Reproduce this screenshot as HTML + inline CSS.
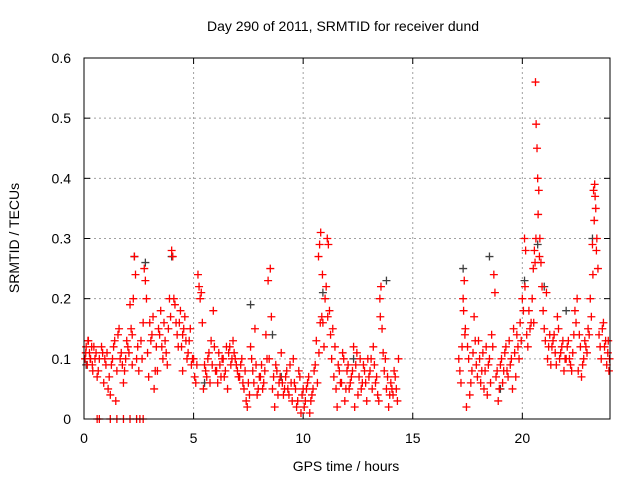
<!DOCTYPE html>
<html><head><meta charset="utf-8"><style>
body{margin:0;background:#fff;}
svg{display:block;font-family:"Liberation Sans",sans-serif;}
</style></head><body>
<svg id="chart" width="640" height="480">
<rect width="640" height="480" fill="#fff"/>
<g id="grid"></g>
<g id="ticks"></g>
<g id="marks"></g>
<rect x="84" y="58" width="526" height="361" fill="none" stroke="#000" stroke-width="1"/>
<text x="343" y="31" font-size="14" text-anchor="middle">Day 290 of 2011, SRMTID for receiver dund</text>
<text x="346" y="471" font-size="14" text-anchor="middle">GPS time / hours</text>
<text transform="translate(19,238) rotate(-90)" font-size="14" text-anchor="middle">SRMTID / TECUs</text>
</svg>
<script>
const xTicks=[0,5,10,15,20];
const yTicks=[0,0.1,0.2,0.3,0.4,0.5,0.6];
const yTickLabels=["0","0.1","0.2","0.3","0.4","0.5","0.6"];
const redTimes=[0.05,0.1,0.15,0.2,0.25,0.3,0.35,0.4,0.5,0.6,0.7,0.8,0.85,0.9,1.0,
1.1,1.2,1.3,1.4,1.5,1.6,1.7,1.8,1.9,2.0,1.45,1.75,
2.1,2.2,2.3,2.35,2.4,2.5,2.6,2.7,2.75,2.8,2.85,2.9,2.95,2.2,
3.0,3.1,3.2,3.3,3.4,3.5,3.6,3.7,3.8,3.9,3.95,3.35,
4.0,4.05,4.1,4.2,4.3,4.4,4.5,4.6,4.7,4.8,4.9,4.5,
5.0,5.1,5.2,5.25,5.3,5.4,5.5,5.6,5.7,5.8,5.9,6.0,5.45,
6.1,6.2,6.3,6.4,6.5,6.6,6.7,6.8,6.9,7.0,6.55,
7.1,7.2,7.3,7.4,7.5,7.6,7.7,7.8,7.9,8.0,7.45,
8.1,8.2,8.3,8.4,8.5,8.55,8.6,8.7,8.8,8.9,9.0,8.45,
9.1,9.2,9.3,9.4,9.5,9.6,9.7,9.8,9.9,10.0,9.55,
10.1,10.2,10.3,10.4,10.5,10.6,10.7,10.75,10.8,10.85,10.9,11.0,11.05,10.95,
11.1,11.15,11.2,11.3,11.4,11.5,11.6,11.7,11.8,11.9,12.0,11.55,
12.1,12.2,12.3,12.4,12.5,12.6,12.7,12.8,12.9,13.0,12.35,
13.1,13.2,13.3,13.4,13.5,13.55,13.6,13.7,13.8,13.9,14.0,13.65,
14.1,14.2,14.3,14.35,
17.1,17.2,17.3,17.35,17.4,17.5,17.6,17.7,17.8,17.9,18.0,17.45,
18.1,18.2,18.3,18.4,18.5,18.6,18.7,18.75,18.8,18.9,19.0,18.35,
19.1,19.2,19.3,19.4,19.5,19.6,19.7,19.8,19.9,20.0,19.55,
20.1,20.15,20.2,20.3,20.4,20.5,20.55,20.6,20.63,20.67,20.7,20.75,20.8,20.85,20.9,21.0,
21.1,21.2,21.3,21.4,21.5,21.6,21.7,21.8,21.9,22.0,21.45,
22.1,22.2,22.3,22.4,22.5,22.6,22.7,22.8,22.9,23.0,22.55,
23.1,23.2,23.25,23.3,23.35,23.4,23.5,23.6,23.7,23.8,23.9,23.95,23.45,
0.6,0.7,1.2,1.5,1.8,2.1,2.4,2.55,2.7];
const redValues=[0.1,0.12,0.09,0.13,0.11,0.1,0.12,0.08,0.1,0.07,0.1,0.12,0.11,0.06,0.09,
0.05,0.04,0.1,0.13,0.08,0.15,0.11,0.06,0.1,0.12,0.03,0.09,
0.19,0.14,0.27,0.24,0.1,0.08,0.13,0.16,0.25,0.23,0.2,0.11,0.07,0.09,
0.16,0.14,0.05,0.12,0.15,0.18,0.1,0.13,0.09,0.2,0.17,0.08,
0.28,0.27,0.2,0.16,0.12,0.18,0.14,0.17,0.1,0.13,0.09,0.08,
0.1,0.06,0.24,0.22,0.2,0.16,0.09,0.07,0.11,0.13,0.18,0.08,0.05,
0.06,0.09,0.1,0.07,0.12,0.11,0.09,0.13,0.1,0.08,0.05,
0.07,0.1,0.05,0.03,0.06,0.12,0.08,0.15,0.04,0.07,0.02,
0.09,0.06,0.14,0.23,0.25,0.17,0.05,0.02,0.08,0.06,0.11,0.1,
0.04,0.07,0.05,0.09,0.03,0.06,0.02,0.08,0.01,0.05,0.1,
0.03,0.06,0.01,0.04,0.08,0.13,0.27,0.29,0.31,0.17,0.16,0.2,0.22,0.12,
0.3,0.29,0.18,0.1,0.07,0.05,0.09,0.06,0.11,0.03,0.08,0.02,
0.05,0.07,0.12,0.09,0.04,0.1,0.06,0.08,0.03,0.07,0.02,
0.1,0.12,0.06,0.04,0.2,0.22,0.15,0.08,0.05,0.02,0.06,0.11,
0.04,0.07,0.03,0.1,
0.1,0.06,0.2,0.23,0.15,0.12,0.04,0.08,0.17,0.09,0.13,0.02,
0.06,0.11,0.08,0.04,0.1,0.14,0.24,0.21,0.07,0.03,0.09,0.12,
0.06,0.11,0.08,0.13,0.1,0.15,0.07,0.12,0.16,0.2,0.05,
0.3,0.28,0.14,0.18,0.16,0.25,0.28,0.56,0.49,0.45,0.4,0.38,0.3,0.26,0.22,0.15,
0.21,0.12,0.09,0.13,0.11,0.17,0.1,0.12,0.08,0.1,0.14,
0.13,0.09,0.11,0.18,0.2,0.14,0.07,0.1,0.12,0.15,0.08,
0.2,0.29,0.38,0.39,0.35,0.3,0.14,0.1,0.16,0.13,0.11,0.08,0.25,
0,0,0,0,0,0,0,0,0];
const redTimes2=[0.08,0.18,0.28,0.38,0.45,0.55,0.65,0.95,1.05,1.15,1.25,1.35,1.55,1.65,1.85,1.95,2.05,2.15,2.25,2.45,2.65,
3.05,3.15,3.25,3.45,3.55,3.65,3.75,3.85,4.15,4.25,4.35,4.45,4.55,4.65,4.75,4.85,4.95,5.05,5.15,5.35,5.55,5.65,5.75,5.85,5.95,
6.05,6.15,6.25,6.35,6.45,6.65,6.75,6.85,6.95,7.05,7.15,7.25,7.35,7.55,7.65,7.75,7.85,7.95,8.05,8.15,8.25,8.35,8.65,8.75,8.85,8.95,
9.05,9.15,9.25,9.35,9.45,9.65,9.75,9.85,9.95,10.05,10.15,10.25,10.35,10.45,10.55,10.65,10.72,10.78,10.88,11.12,11.25,11.35,11.45,11.65,11.75,11.85,11.95,
12.05,12.15,12.25,12.45,12.55,12.65,12.75,12.85,12.95,13.05,13.15,13.25,13.35,13.45,13.52,13.75,13.85,13.95,14.05,14.15,14.25,
17.15,17.25,17.32,17.38,17.55,17.65,17.75,17.85,17.95,18.05,18.15,18.25,18.45,18.55,18.65,18.85,18.95,19.05,19.15,19.25,19.35,19.45,19.65,19.75,19.85,19.95,
20.05,20.12,20.25,20.35,20.45,20.52,20.58,20.62,20.72,20.78,20.95,21.05,21.15,21.25,21.35,21.55,21.65,21.75,21.85,21.95,
22.05,22.15,22.25,22.35,22.45,22.65,22.75,22.85,22.95,23.05,23.15,23.22,23.28,23.32,23.38,23.55,23.65,23.75,23.85,23.92,23.98];
const redValues2=[0.11,0.13,0.1,0.09,0.12,0.11,0.08,0.1,0.11,0.07,0.09,0.12,0.14,0.1,0.08,0.13,0.11,0.15,0.2,0.12,0.1,
0.13,0.17,0.08,0.14,0.12,0.16,0.11,0.15,0.19,0.14,0.16,0.12,0.15,0.13,0.11,0.15,0.1,0.07,0.09,0.21,0.08,0.1,0.06,0.09,0.12,
0.08,0.11,0.07,0.1,0.08,0.12,0.1,0.11,0.09,0.07,0.09,0.06,0.08,0.04,0.1,0.06,0.09,0.05,0.07,0.05,0.08,0.1,0.07,0.09,0.04,0.07,
0.06,0.05,0.08,0.04,0.06,0.05,0.03,0.07,0.04,0.02,0.05,0.07,0.03,0.05,0.09,0.06,0.11,0.16,0.24,0.17,0.14,0.15,0.12,0.08,0.06,0.1,0.05,
0.09,0.06,0.08,0.11,0.07,0.05,0.09,0.06,0.1,0.08,0.05,0.09,0.07,0.03,0.17,0.1,0.07,0.04,0.05,0.08,0.05,
0.08,0.12,0.18,0.14,0.1,0.06,0.11,0.13,0.07,0.1,0.08,0.05,0.09,0.06,0.12,0.08,0.05,0.1,0.08,0.12,0.07,0.09,0.11,0.14,0.1,0.13,
0.18,0.22,0.12,0.15,0.2,0.16,0.26,0.3,0.34,0.27,0.18,0.13,0.1,0.14,0.12,0.09,0.15,0.11,0.13,0.1,
0.12,0.1,0.08,0.14,0.16,0.12,0.09,0.13,0.11,0.14,0.17,0.24,0.33,0.37,0.28,0.12,0.15,0.12,0.09,0.13,0.1];
const grayTimes=[0.1,2.3,2.8,4.0,7.6,8.6,10.9,13.8,17.3,18.5,20.1,20.7,21.0,22.0,23.2,5.5,9.0,12.3,19.0];
const grayValues=[0.09,0.27,0.26,0.27,0.19,0.14,0.21,0.23,0.25,0.27,0.23,0.29,0.22,0.18,0.3,0.06,0.07,0.1,0.05];

const NS="http://www.w3.org/2000/svg";
const X0=84,X1=610,Y0=419,Y1=58;
function xs(t){return X0+(X1-X0)*t/24;}
function ys(v){return Y0-(Y0-Y1)*v/0.6;}
function mk(tag,attrs,parent){const e=document.createElementNS(NS,tag);for(const k in attrs)e.setAttribute(k,attrs[k]);parent.appendChild(e);return e;}
const grid=document.getElementById('grid'),ticks=document.getElementById('ticks'),marks=document.getElementById('marks');
xTicks.forEach(t=>{
  const x=xs(t);
  if(t>0){const g=mk('line',{x1:x,x2:x,y1:Y0,y2:Y1,stroke:'#a0a0a0','stroke-dasharray':'2,3'},grid);
  
  }
  mk('line',{x1:x,x2:x,y1:Y0,y2:Y0-6,stroke:'#000'},ticks);
  mk('line',{x1:x,x2:x,y1:Y1,y2:Y1+6,stroke:'#000'},ticks);
  const l=mk('text',{x:x,y:443,'font-size':14,'text-anchor':'middle'},ticks);l.textContent=t;
  
  
});
yTicks.forEach((v,i)=>{
  const y=ys(v);
  if(v>0&&v<0.6){const g=mk('line',{x1:X0,x2:X1,y1:y,y2:y,stroke:'#a0a0a0','stroke-dasharray':'2,3'},grid);
  
  }
  mk('line',{x1:X0,x2:X0+6,y1:y,y2:y,stroke:'#000'},ticks);
  mk('line',{x1:X1,x2:X1-6,y1:y,y2:y,stroke:'#000'},ticks);
  const l=mk('text',{x:71,y:y+5,'font-size':14,'text-anchor':'end'},ticks);l.textContent=yTickLabels[i];
  
  
});
function plus(t,v,c,name){
  const x=xs(t),y=ys(v);
  const p=mk('path',{d:`M${x-4},${y}H${x+4}M${x},${y-4}V${y+4}`,stroke:c,'stroke-width':1.3,fill:'none'},marks);
  
  
}
grayTimes.forEach((t,i)=>plus(t,grayValues[i],'#404040','gray-point'));
redTimes.forEach((t,i)=>plus(t,redValues[i],'#ff0000','red-point'));
redTimes2.forEach((t,i)=>plus(t,redValues2[i],'#ff0000','red-point'));
</script>
</body></html>
